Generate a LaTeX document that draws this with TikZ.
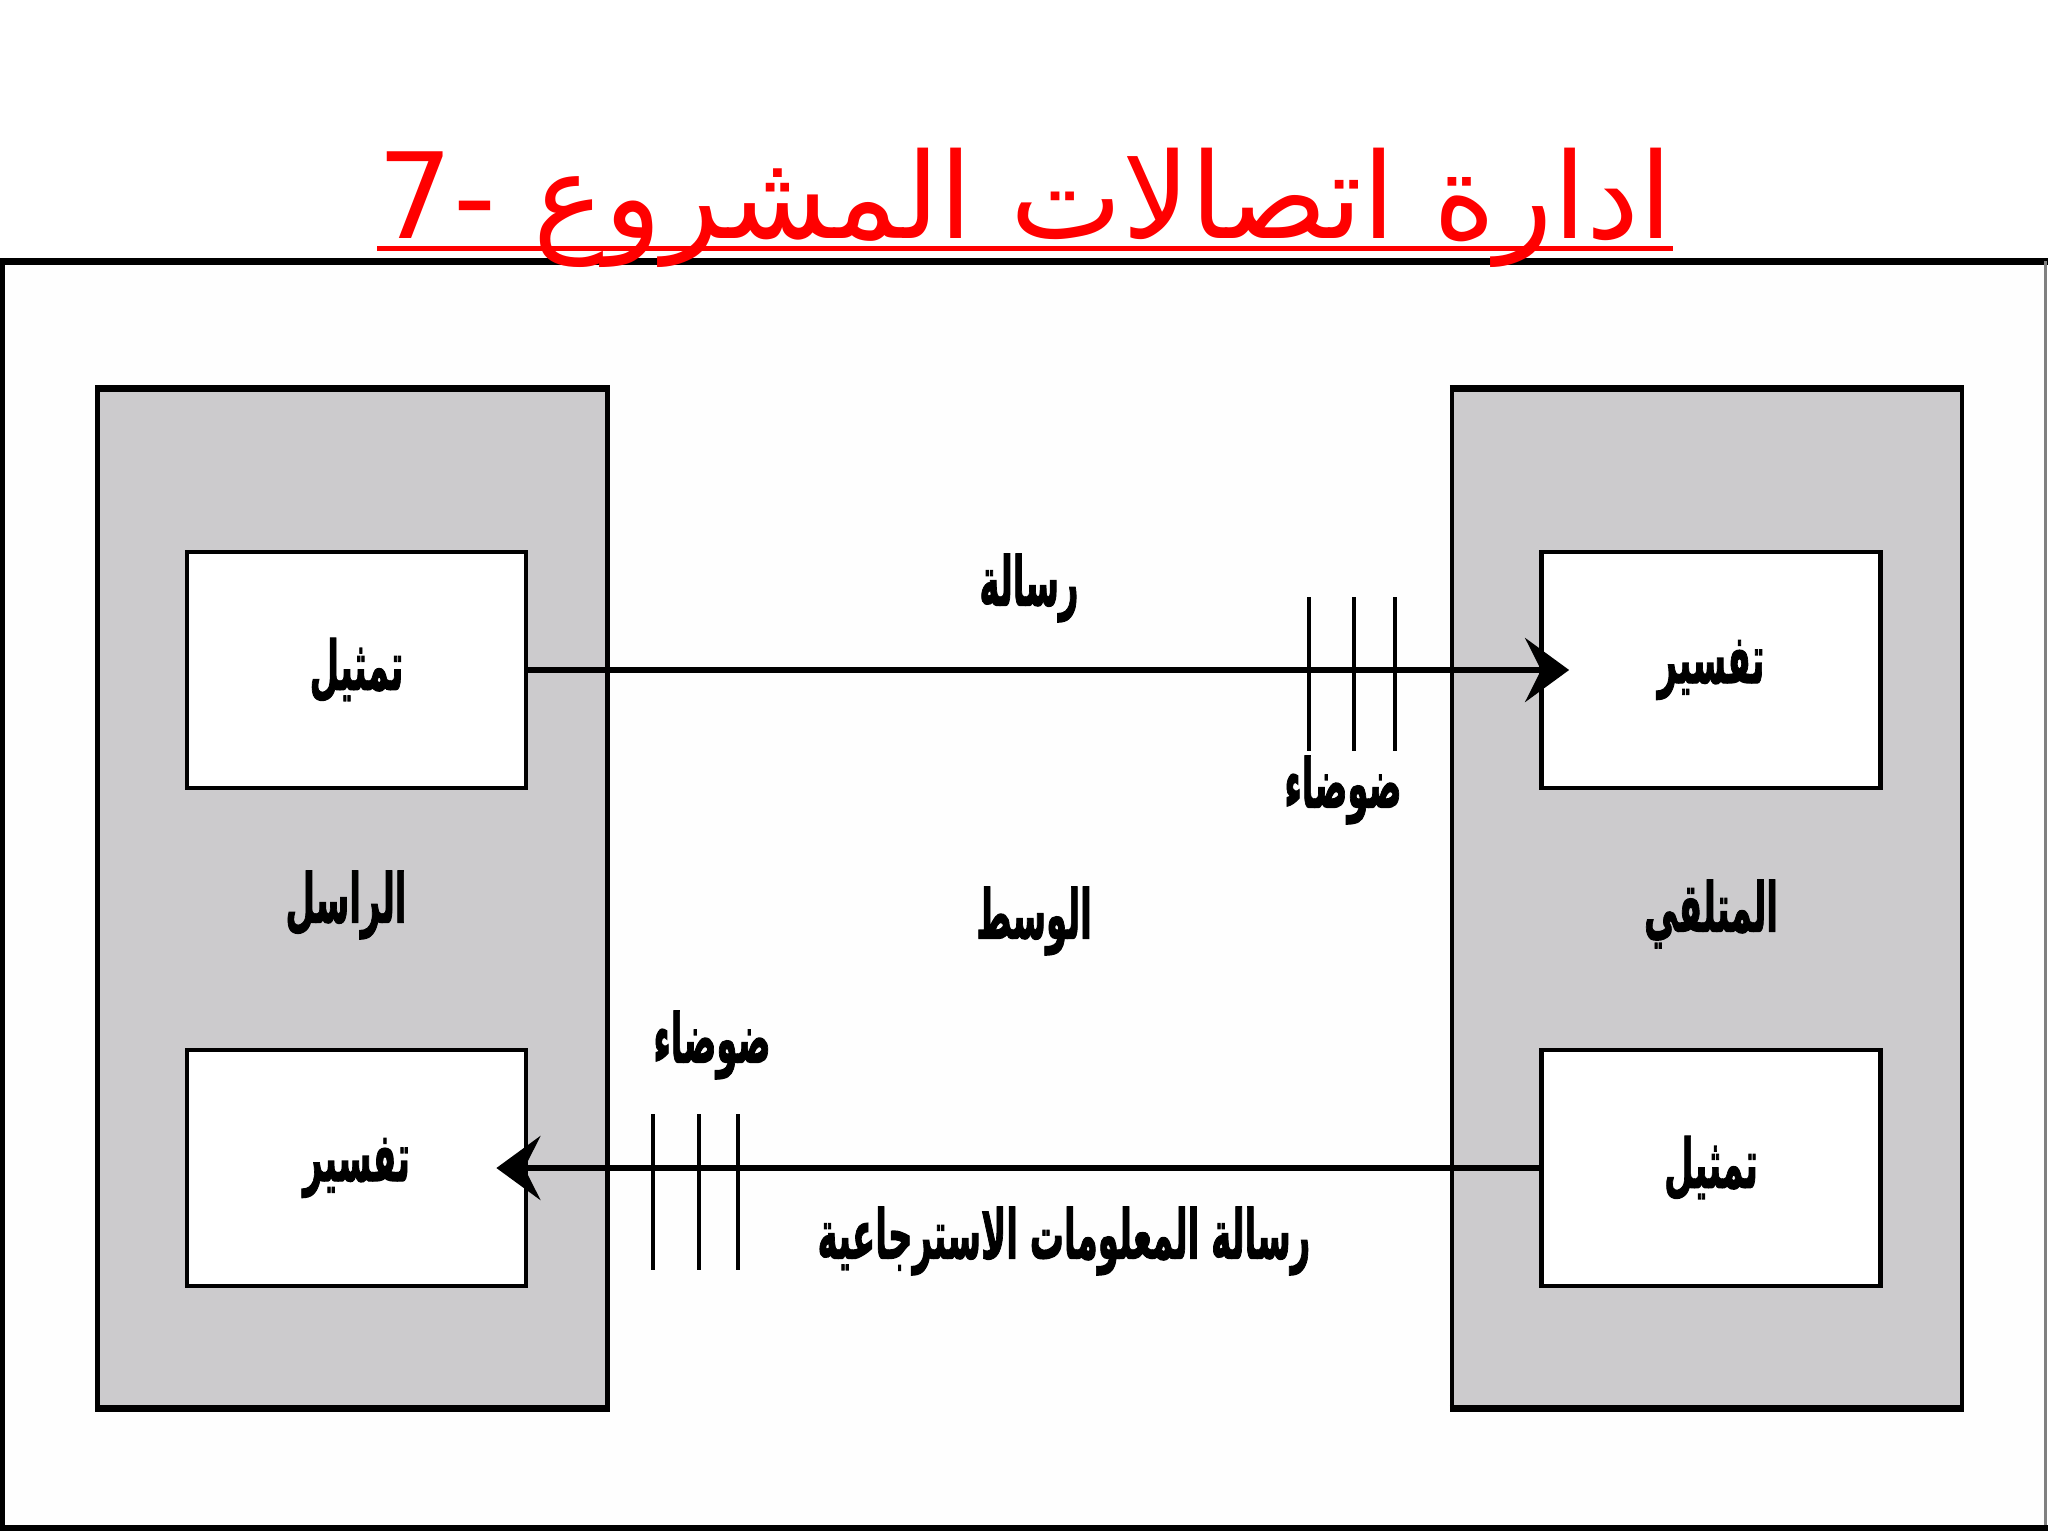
\documentclass[tikz,border=0pt]{standalone}
\usepackage{fontspec}
\usetikzlibrary{arrows.meta}
\TeXXeTstate=1
\newfontfamily\titlefont[Script=Arabic]{DejaVu Sans}
\newfontfamily\arb[Script=Arabic, BoldFeatures={FakeBold=2}]{DejaVu Sans}
\definecolor{boxgrey}{HTML}{CCCBCD}
\definecolor{titlered}{HTML}{FF0000}
\newcommand{\lbl}[1]{\scalebox{0.5}[1]{\arb\bfseries\beginR #1\endR}}
\tikzset{
  panel/.style={draw=black, line width=2.2pt, fill=boxgrey, minimum width=255pt, minimum height=509.5pt, inner sep=0pt},
  inbox/.style={draw=black, line width=2.4pt, fill=white, minimum width=169.5pt, minimum height=118pt, inner sep=0pt, font=\fontsize{34}{40}\selectfont},
  label/.style={inner sep=0pt, font=\fontsize{34}{40}\selectfont},
  msg/.style={line width=3pt, -{Stealth[length=22pt, width=32pt, inset=8pt]}},
  noise/.style={line width=1.75pt}
}
\begin{document}
\begin{tikzpicture}[x=0.5pt, y=-0.5pt]
\useasboundingbox (0,0) rectangle (2048,1536);
\fill[white] (0,0) rectangle (2048,1536);
% frame
\fill[white!99!gray] (2,261) rectangle (2045,1527);
\draw[line width=3.5pt, black] (0,261) -- (2048,261);
\draw[line width=2.5pt, black] (2,261) -- (2,1530);
\draw[line width=1.5pt, gray] (2045,261) -- (2045,1530);
\draw[line width=3pt, black] (0,1528) -- (2048,1528);
% title
\node[inner sep=0pt, anchor=base, text=titlered, font=\titlefont\fontsize{59.5}{70}\selectfont] (title) at (1025,238) {-7\ \beginR ادارة اتصالات المشروع\endR};
\draw[titlered, line width=2.5pt] ([yshift=-5pt]title.base west) -- ([yshift=-5pt]title.base east);
% panels
\node[panel] (ls) at (352.5,898.5) {};
\node[panel] (rs) at (1707,898.5) {};
\foreach \p in {ls,rs}{
  \draw[line width=3.5pt] ([yshift=-1pt]\p.north west) -- ([yshift=-1pt]\p.north east);
  \draw[line width=3.5pt] ([yshift=1pt]\p.south west) -- ([yshift=1pt]\p.south east);
}
% inner boxes
\node[inbox] (lt) at (356.5,670) {\lbl{تمثيل}};
\node[inbox] (lb) at (356.5,1168) {\lbl{تفسير}};
\node[inbox] (rt) at (1711,670) {\lbl{تفسير}};
\node[inbox] (rb) at (1711,1168) {\lbl{تمثيل}};
% labels
\node[label] (sender) at (346,905) {\lbl{الراسل}};
\node[label] (receiver) at (1711,914) {\lbl{المتلقي}};
\node[label] (medium) at (1034,921) {\lbl{الوسط}};
\node[label] (message) at (1029,588) {\lbl{رسالة}};
\node[label] (noise1) at (1343,790) {\lbl{ضوضاء}};
\node[label] (noise2) at (712,1045) {\lbl{ضوضاء}};
\node[label] (feedback) at (1064,1241) {\lbl{رسالة المعلومات الاسترجاعية}};
% arrows
\draw[msg] (lt.east) -- ([xshift=15pt]rt.west);
\draw[msg] (rb.west) -- ([xshift=-16pt]lb.east);
% noise ticks
\foreach \x in {1309,1354,1395} \draw[noise] (\x,597) -- (\x,751);
\foreach \x in {653,699,738} \draw[noise] (\x,1114) -- (\x,1270);
\end{tikzpicture}
\end{document}
